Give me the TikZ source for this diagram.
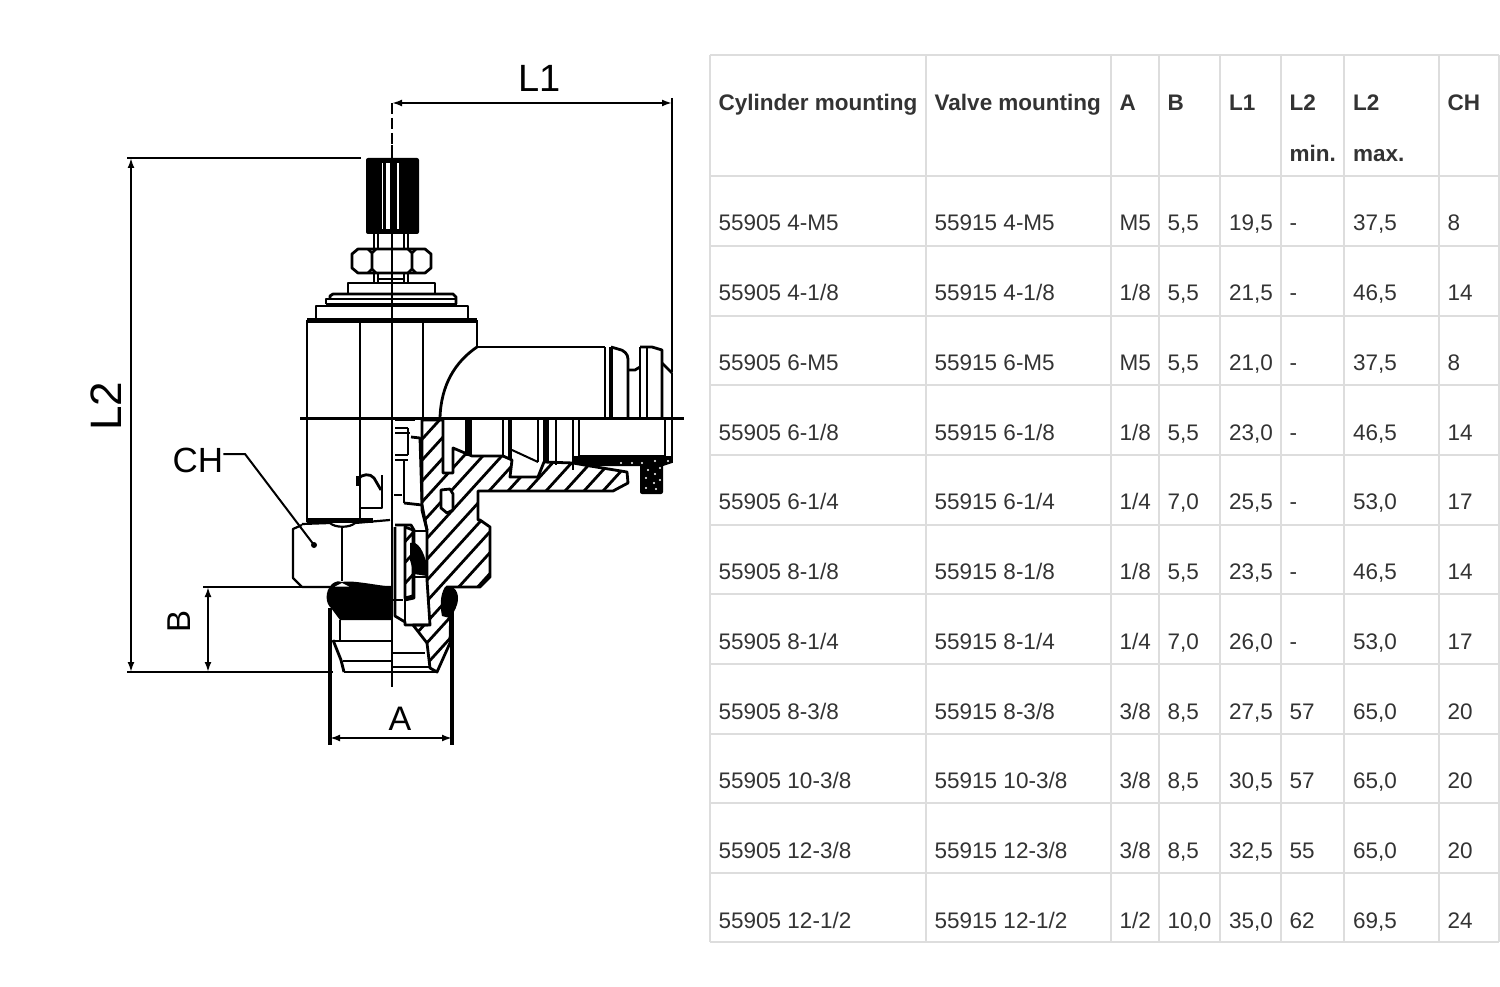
\documentclass[tikz,border=0pt]{standalone}
\usepackage{fontspec}
\setmainfont{Liberation Sans}
\usetikzlibrary{arrows.meta}
\definecolor{grid}{HTML}{DDDDDD}
\definecolor{ink}{HTML}{333333}
\tikzset{
  tline/.style={draw=grid,line width=2pt},
  cell/.style={anchor=base west,inner sep=0pt,text=ink,font=\fontsize{22.5}{26}\selectfont},
  head/.style={cell,font=\fontsize{22.5}{26}\selectfont\bfseries},
  part/.style={draw=black,line width=2.8pt,line join=round},
  thin part/.style={draw=black,line width=2pt,line join=round},
  heavy/.style={draw=black,line width=3.4pt},
  dimline/.style={draw=black,line width=2pt},
  dimarrow/.style={draw=black,line width=2.8pt,{Latex[length=10pt,width=7pt]}-{Latex[length=10pt,width=7pt]}},
  leader/.style={draw=black,line width=2pt},
  hatchline/.style={draw=black,line width=2.8pt},
  dimtext/.style={inner sep=0pt,text=black,font=\fontsize{38}{40}\selectfont},
}
\newcommand{\hatched}[1]{%
  \begin{scope}
    \clip #1;
    \foreach \k in {0,...,32}{
      \draw[hatchline] ({90+\k*19},700) -- ({90+\k*19+300},370);
    }
  \end{scope}
  \draw[part] #1;
}
\newcommand{\rowcells}[9]{%
  \node[cell] (a#1) at (718.5,#2) {#3};
  \node[cell] (b#1) at (934.5,#2) {#4};
  \node[cell] (c#1) at (1119.5,#2) {#5};
  \node[cell] (d#1) at (1167.5,#2) {#6};
  \node[cell] (e#1) at (1229,#2) {#7};
  \node[cell] (f#1) at (1289.5,#2) {#8};
  \node[cell] (g#1) at (1353,#2) {#9};
}
\begin{document}
\begin{tikzpicture}[x=1pt,y=-1pt]
\useasboundingbox[fill=white] (0,0) rectangle (1500,987);

% ---- table grid
\foreach \c in {710,926,1111,1159,1220,1281,1344,1439,1499}{\draw[tline] (\c,55) -- (\c,942);}
\foreach \r in {55,176,246,316,385,455,525,594,664,734,803,873,942}{\draw[tline] (710,\r) -- (1499,\r);}

% ---- table header
\node[head] (h1) at (718.5,110.5) {Cylinder mounting};
\node[head] (h2) at (934.5,110.5) {Valve mounting};
\node[head] (h3) at (1119.5,110.5) {A};
\node[head] (h4) at (1167.5,110.5) {B};
\node[head] (h5) at (1229,110.5) {L1};
\node[head] (h6) at (1289.5,110.5) {L2};
\node[head] (h7) at (1353,110.5) {L2};
\node[head] (h8) at (1447.5,110.5) {CH};
\node[head] (h6b) at (1289.5,161.5) {min.};
\node[head] (h7b) at (1353,161.5) {max.};

% ---- table rows
\rowcells{1}{231}{55905 4-M5}{55915 4-M5}{M5}{5,5}{19,5}{-}{37,5}\node[cell] (k1) at (1447.5,231) {8};
\rowcells{2}{300.5}{55905 4-1/8}{55915 4-1/8}{1/8}{5,5}{21,5}{-}{46,5}\node[cell] (k2) at (1447.5,300.5) {14};
\rowcells{3}{370}{55905 6-M5}{55915 6-M5}{M5}{5,5}{21,0}{-}{37,5}\node[cell] (k3) at (1447.5,370) {8};
\rowcells{4}{440}{55905 6-1/8}{55915 6-1/8}{1/8}{5,5}{23,0}{-}{46,5}\node[cell] (k4) at (1447.5,440) {14};
\rowcells{5}{509.5}{55905 6-1/4}{55915 6-1/4}{1/4}{7,0}{25,5}{-}{53,0}\node[cell] (k5) at (1447.5,509.5) {17};
\rowcells{6}{579}{55905 8-1/8}{55915 8-1/8}{1/8}{5,5}{23,5}{-}{46,5}\node[cell] (k6) at (1447.5,579) {14};
\rowcells{7}{649}{55905 8-1/4}{55915 8-1/4}{1/4}{7,0}{26,0}{-}{53,0}\node[cell] (k7) at (1447.5,649) {17};
\rowcells{8}{719}{55905 8-3/8}{55915 8-3/8}{3/8}{8,5}{27,5}{57}{65,0}\node[cell] (k8) at (1447.5,719) {20};
\rowcells{9}{788}{55905 10-3/8}{55915 10-3/8}{3/8}{8,5}{30,5}{57}{65,0}\node[cell] (k9) at (1447.5,788) {20};
\rowcells{10}{858}{55905 12-3/8}{55915 12-3/8}{3/8}{8,5}{32,5}{55}{65,0}\node[cell] (k10) at (1447.5,858) {20};
\rowcells{11}{928}{55905 12-1/2}{55915 12-1/2}{1/2}{10,0}{35,0}{62}{69,5}\node[cell] (k11) at (1447.5,928) {24};

% ---- knob
\fill[black,rounded corners=2pt] (366,158) rectangle (419,234);
\foreach \a/\b in {381.5/383,386/390,397/398.5}{\fill[white] (\a,163) rectangle (\b,229);}
\draw[part] (374,234) -- (374,249) (378,234) -- (378,249) (404,234) -- (404,249) (408,234) -- (408,249);
\draw[part] (374,273) -- (374,283) (378,273) -- (378,283) (404,273) -- (404,283) (408,273) -- (408,283);
\draw[part] (378,279) -- (404,279);
% nuts
\draw[part] (358,249) -- (425,249) -- (431,254) -- (431,268) -- (425,273) -- (358,273) -- (352,268) -- (352,254) -- cycle;
\draw[part] (368,249) -- (372,253) -- (372,269) -- (368,273) (376,249) -- (372,253) (376,273) -- (372,269);
\draw[part] (408,249) -- (412,253) -- (412,269) -- (408,273) (416,249) -- (412,253) (416,273) -- (412,269);
% stepped cap
\draw[part] (348,294) -- (348,283) -- (435,283) -- (435,294);
\draw[part] (330,299) -- (330,296) -- (333,294) -- (453,294) -- (456,297) -- (456,304);
\draw[part] (326,304) -- (326,299) -- (457,299);
\draw[part] (326,304) -- (457,304);
\draw[part] (316,318) -- (316,306) -- (468,306) -- (468,318);
\draw[heavy,line width=5pt] (307,320.5) -- (477,320.5);

% ---- upper body
\draw[part] (307,320) -- (307,522);
\draw[part] (477,320) -- (477,347);
\draw[part] (360,320) -- (360,518);
\draw[part] (423,320) -- (423,420);
\draw[part] (477,347) .. controls (455,362) and (441,385) .. (440,418);
\draw[thin part] (477,347) -- (605,347);

% ---- side port
\draw[thin part] (605,347) -- (605,418);
\draw[heavy,line width=3.6pt] (611,347) -- (611,418);
\draw[part] (611,347) -- (618,349) .. controls (624,350) and (628,354) .. (628,359) -- (628,418);
\draw[part] (628,370) -- (635,370) -- (640,367);
\draw[part] (640,347) -- (640,418);
\draw[thin part] (647,347) -- (647,418);
\draw[part] (640,347) -- (652,347) -- (662,350) -- (662,418);
\draw[part] (662,363) -- (672,373);

% ---- section below axis
\draw[heavy,line width=6.5pt] (468.5,418) -- (468.5,456);
\draw[thin part] (503,418) -- (503,456);
\draw[heavy,line width=4.5pt] (510,418) -- (510,460);
\draw[thin part] (512,450) -- (538,462);
\draw[thin part] (538,418) -- (538,462);
\draw[heavy,line width=6pt] (546,418) -- (546,462);
\draw[part] (556,418) -- (556,465);
\draw[part] (573,418) -- (573,470);
\draw[part] (579,418) -- (579,456);
\draw[part] (580,456) -- (665,456) -- (665,418);
\draw[part] (672,373) -- (672,463);

% hatched main casting
\hatched{(422,420) -- (443,420) -- (443,473) -- (453,473) -- (453,448) -- (472,456) -- (503,456) -- (512,460) -- (510,477) -- (538,477) -- (544,462) -- (573,463) -- (590,466) -- (627,472) -- (628,483) -- (613,491) -- (478,491) -- (478,520) -- (480,520) -- (490,527) -- (490,577) -- (480,587) -- (447,587) -- (451,600) -- (450,643) -- (437,672) -- (430,668) -- (427,643) -- (413,625) -- (430,625) -- (427,580) -- (427,530) -- (422,510) -- cycle}

% black band and dotted seal
\fill[black] (573,456) -- (672,456) -- (672,463) -- (663,466) -- (600,466) -- (590,466) -- (573,464) -- cycle;
\fill[black,rounded corners=2pt] (640,463) rectangle (663,494);
\foreach \px/\py in {621/463,632/463,642/463,655/461,668/461,648/470,655/474,660/468,646/478,654/483,660/480,646/488,656/489}{
  \fill[white] (\px,\py) circle (1.1pt);
}

% small cell inside the casting
\draw[part,fill=white] (441,490) -- (450,489) -- (453,494) -- (453,510) -- (447,513) -- (441,508) -- cycle;

% ---- inner valve parts
\draw[thin part] (395,420) -- (415,420);
\draw[thin part] (395,428) -- (408,428) (395,433) -- (410,433);
\draw[part] (395,455) -- (408,455) (395,460) -- (408,460);
\draw[part] (408,428) -- (408,455);
\draw[part] (404,460) -- (404,503);
\draw[part] (411,437) -- (420,438) -- (422,503);
\draw[part] (404,503) -- (422,505) -- (427,530);
\draw[part] (394,495) -- (402,495);
\draw[part] (395,525) -- (411,525) -- (414,530) -- (414,598) -- (405,600);
\draw[part] (412,531) -- (427,531);

% the screw silhouette in the upper body
\draw[part] (360,508) -- (382,508) -- (382,475);
\draw[part] (358,479) .. controls (362,474) and (370,473) .. (374,478) -- (381,490);
\draw[heavy] (358,476) -- (358,486);

% ---- gasket
\hatched{(405,527) -- (413,530) -- (413,596) -- (405,598) -- cycle}
\fill[black] (410,543) .. controls (418,540) and (424,552) .. (427,565) -- (427,576) -- (414,574) -- (410,560) -- cycle;
\draw[part] (395,527) -- (395,616) -- (405,622) -- (405,625) -- (428,625);
\draw[part] (405,598) -- (405,622);
\draw[part] (393,600) -- (403,600);
\draw[part] (413,577) -- (427,577);

% ---- hex nut
\draw[heavy,line width=5pt] (307,520) -- (373,520);
\draw[part,line width=2.2pt] (302,525) -- (293,529) -- (293,578) -- (302,587) -- (392,587);
\draw[part,line width=2.2pt] (302,524) -- (330,523) .. controls (335,528) and (350,528) .. (355,523) -- (390,520);
\draw[part,line width=2.2pt] (342,526) -- (342,581);

% ---- black seals
\fill[black] (332,584) .. controls (336,581) and (338,581) .. (342,582) .. controls (350,580) and (370,584) .. (392,587) -- (392,620) -- (340,620) -- (331,608) .. controls (326,604) and (324,592) .. (332,584) -- cycle;
\fill[white] (335,586.5) -- (342,583) -- (349,586.5) -- cycle;
\fill[black] (445,587) .. controls (452,584) and (458,590) .. (458,598) .. controls (458,606) and (454,612) .. (450,618) -- (442,616) .. controls (440,606) and (440,595) .. (445,587) -- cycle;

% ---- lower thread
\draw[part] (340,620) -- (340,641);
\draw[part] (333,640) -- (341,660) -- (344,672);
\draw[thin part] (334,641) -- (392,641);
\draw[thin part] (343,661) -- (392,661);
\draw[thin part] (344,672) -- (437,672);
\draw[thin part] (393,653) -- (425,653);
\draw[part] (393,667) -- (430,667);

% ---- axes
\draw[part,line width=3pt] (300,418) -- (684,418);
\coordinate (cltop) at (392,103);
\coordinate (clbot) at (392,687);
\draw[part,line width=2.6pt] (392,145) -- (clbot);
\draw[part,line width=2.6pt,dash pattern=on 11pt off 4pt] (cltop) -- (392,145);

% ---- dimensions
\coordinate (l1a) at (392,103);
\coordinate (l1b) at (672,103);
\draw[dimarrow] (l1a) -- (l1b);
\draw[part] (672,98) -- (672,372);
\node[dimtext] (L1) at (540,78) {L1};

\coordinate (l2a) at (131,158);
\coordinate (l2b) at (131,672);
\draw[dimarrow] (l2a) -- (l2b);
\draw[dimline] (127,158) -- (361,158);
\draw[dimline] (127,672) -- (333,672);
\node[dimtext,rotate=90,font=\fontsize{44}{46}\selectfont] (L2) at (106,406) {L2};

\coordinate (ba) at (208,587);
\coordinate (bb) at (208,672);
\draw[dimarrow] (ba) -- (bb);
\draw[dimline] (203,587) -- (302,587);
\node[dimtext,rotate=90,font=\fontsize{33}{35}\selectfont] (B) at (179,621) {B};

\coordinate (aa) at (330,738);
\coordinate (ab) at (452,738);
\draw[dimarrow] (aa) -- (ab);
\draw[heavy] (330,608) -- (330,745);
\draw[heavy] (452,600) -- (452,745);
\node[dimtext,font=\fontsize{34}{36}\selectfont] (A) at (400,719) {A};

\node[dimtext,font=\fontsize{35}{38}\selectfont] (CH) at (198,460) {CH};
\coordinate (chk) at (245,454);
\coordinate (chend) at (314,545);
\draw[leader] (CH.east |- chk) -- (chk) -- (chend);
\fill[black] (chend) circle (3pt);
\end{tikzpicture}
\end{document}
